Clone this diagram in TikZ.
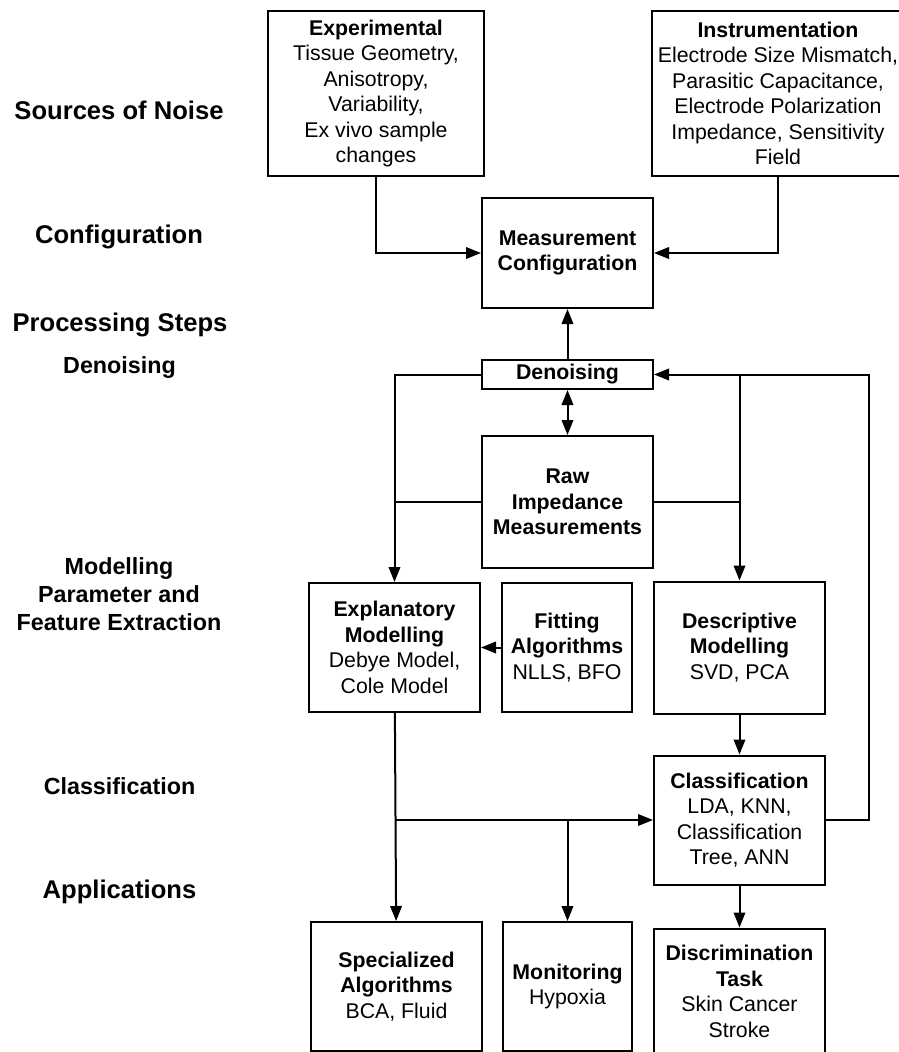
\documentclass[tikz,border=0pt]{standalone}
\usepackage{fontspec}
\setsansfont{Liberation Sans}
\usetikzlibrary{arrows.meta, positioning, calc}
\newcommand{\bxfont}{\fontsize{21.3}{25.5}\selectfont}
\newcommand{\tagfont}{\fontsize{25.6}{30}\selectfont}
\newcommand{\subtagfont}{\fontsize{23.3}{28}\selectfont}
\tikzset{
  % process boxes
  blk/.style={draw, line width=2pt, minimum width=171pt,
    align=center, font=\bxfont\sffamily, inner sep=2pt},
  % stage labels in the left column
  tag/.style={font=\tagfont\sffamily\bfseries, align=center, inner sep=0pt},
  subtag/.style={tag, font=\subtagfont\sffamily\bfseries},
  A/.style={-{Triangle[length=15pt,width=11.5pt]}, line width=2pt},
  AA/.style={{Triangle[length=15pt,width=11.5pt]}-{Triangle[length=15pt,width=11.5pt]}, line width=2pt},
  ln/.style={line width=2pt},
}

\begin{document}
\begin{tikzpicture}[x=1pt, y=-1pt]
\useasboundingbox (0,0) rectangle (899,1052);
\clip (0,0) rectangle (899,1052);

% =====================================================================
% LEFT COLUMN -- stage labels
% =====================================================================
\node[tag]    (lNoise) at (119,110)   {Sources of Noise};
\node[tag]    (lConf)  at (119,237)   {Configuration};
\node[tag]    (lProc)  at (120,325)   {Processing Steps};
\node[subtag] (lDen)   at (119.5,368) {Denoising};
\node[subtag] (lMod)   at (119,594)   {Modelling\\Parameter and\\Feature Extraction};
\node[subtag] (lCls)   at (119.5,786) {Classification};
\node[tag]    (lApp)   at (119.5,892) {Applications};

% =====================================================================
% NOISE SOURCES + CONFIGURATION
% =====================================================================
\node[blk, minimum width=216pt, minimum height=165pt] (exp) at (376,93.5) {
  \textbf{Experimental}\\Tissue Geometry,\\Anisotropy,\\Variability,\\
  Ex vivo sample\\changes};
\node[blk, minimum width=252pt, minimum height=165pt] (ins) at (778,93.5) {
  \textbf{Instrumentation}\\Electrode Size Mismatch,\\Parasitic Capacitance,\\
  Electrode Polarization\\Impedance, Sensitivity\\Field};

\node[blk, minimum height=110pt] (mc) at (567.5,253) {
  \textbf{Measurement}\\\textbf{Configuration}};
\draw[A] (exp.south) |- (mc.west);
\draw[A] (ins.south) |- (mc.east);

% ── processing chain ─────────────────────────────────────────────────
\node[blk, minimum height=29pt, below=50pt of mc] (den) {\textbf{Denoising}};
\draw[A] (den) -- (mc);

\node[blk, minimum height=132pt, below=45pt of den] (raw) {
  \textbf{Raw}\\\textbf{Impedance}\\\textbf{Measurements}};
\draw[AA] (den) -- (raw);

% =====================================================================
% MODELLING
% =====================================================================
\node[blk, minimum width=130pt, minimum height=129pt] (fit) at (567,647.5) {
  \textbf{Fitting}\\\textbf{Algorithms}\\NLLS, BFO};
\node[blk, minimum height=129pt, left=20pt of fit] (expl) {
  \textbf{Explanatory}\\\textbf{Modelling}\\Debye Model,\\Cole Model};
\node[blk, minimum height=132pt, right=20pt of fit] (desc) {
  \textbf{Descriptive}\\\textbf{Modelling}\\SVD, PCA};

\draw[A] (den.west) -| (expl.north);
\draw[ln] (raw.west) -- (raw.west -| expl.north);
\draw[A] (desc.north |- den.east) -- (desc.north);
\draw[ln] (raw.east) -- (raw.east -| desc.north);
\draw[A] (fit) -- (expl);

% =====================================================================
% CLASSIFICATION + APPLICATIONS
% =====================================================================
\node[blk, minimum height=129pt, below=40pt of desc] (cls) {
  \textbf{Classification}\\LDA, KNN,\\Classification\\Tree, ANN};
\draw[A] (desc) -- (cls);
% feedback loop back to denoising
\draw[A] (cls.east) -- ++(43,0) |- (den.east);

\node[blk, minimum height=126pt, below=42pt of cls] (disc) {
  \textbf{Discrimination}\\\textbf{Task}\\Skin Cancer\\Stroke};
\draw[A] (cls) -- (disc);

\node[blk, minimum height=128.5pt] (spec) at (396.5,986.25) {
  \textbf{Specialized}\\\textbf{Algorithms}\\BCA, Fluid};
\node[blk, minimum width=129pt, minimum height=128.5pt] (mon) at (567.5,986.25) {
  \textbf{Monitoring}\\Hypoxia};

\draw[A] (expl) -- (spec);
\draw[A] (expl.south |- cls.west) -- (cls.west);
\draw[A] (mon.north |- cls.west) -- (mon.north);

\end{tikzpicture}
\end{document}
